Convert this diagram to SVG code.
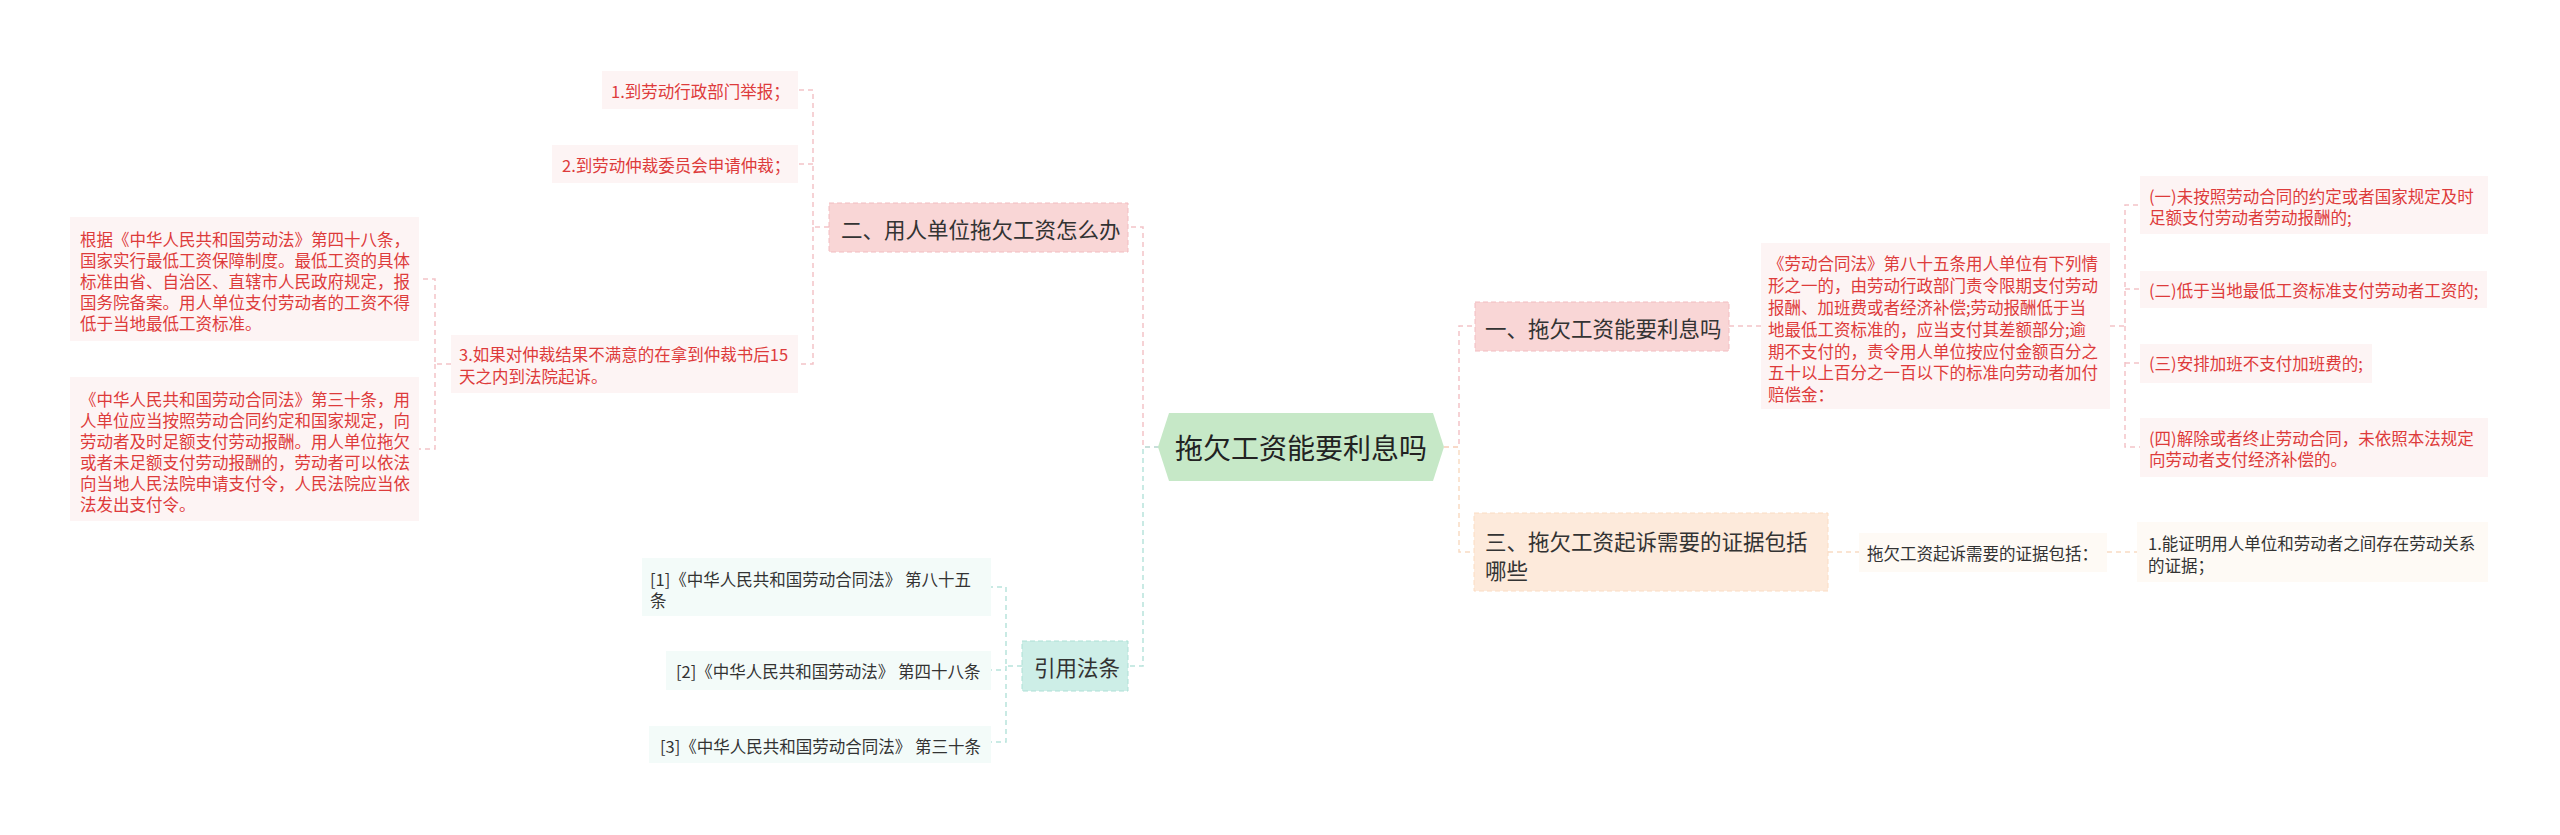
<svg xmlns="http://www.w3.org/2000/svg" width="2560" height="835" viewBox="0 0 2560 835">
<style>
text{font-family:"Noto Sans CJK SC","Noto Sans",sans-serif;dominant-baseline:central}
.red{fill:#dd3b3b;font-size:16.5px}
.dk{fill:#333;font-size:16.5px}
.l1{fill:#333;font-size:21.5px}
.c{fill:#222;font-size:28px}
.cp{fill:none;stroke:#f3c3c8;stroke-width:1.5;stroke-dasharray:5 4}
.ct{fill:none;stroke:#b8e3db;stroke-width:1.5;stroke-dasharray:5 4}
.co{fill:none;stroke:#f9dcc4;stroke-width:1.5;stroke-dasharray:5 4}
.lp{fill:#fdf4f4}
.lt{fill:#f3fbf9}
.lo{fill:#fefaf5}
</style>
<rect width="2560" height="835" fill="#fff"/>
<g id="connectors">
<path class="cp" d="M1159,447 H1143 V227 H1128"/>
<path class="ct" d="M1159,447 H1143 V666 H1128"/>
<path class="cp" d="M1444,447 H1459 V326 H1475"/>
<path class="co" d="M1444,447 H1459 V552 H1474"/>
<path class="cp" d="M829,227 H813 V90 H798 M813,164 H798 M813,227 V364 H798"/>
<path class="cp" d="M451,364 H435 V279 H419 M435,364 V449 H419"/>
<path class="ct" d="M1022,666 H1006 V587 H991 M1006,666 V670 H991 M1006,666 V742 H991"/>
<path class="cp" d="M1729,326 H1761"/>
<path class="cp" d="M2110,326 H2125 V205 H2140 M2125,289 H2140 M2125,326 V447 H2140 M2125,363 H2140"/>
<path class="co" d="M1828,552 H1859"/>
<path class="co" d="M2107,552 H2137"/>
</g>
<g id="root">
<polygon points="1158,447 1169,413 1433,413 1444,447 1433,481 1169,481" fill="#c6e8c7"/>
<text class="c" x="1301" y="447" text-anchor="middle">拖欠工资能要利息吗</text>
</g>
<g id="n2">
<rect x="829" y="203" width="299" height="49" fill="#f9d6d6" stroke="#f2bcc0" stroke-dasharray="5 3"/>
<text class="l1" x="841" y="228">二、用人单位拖欠工资怎么办</text>
</g>
<g id="n2-1">
<rect class="lp" x="602" y="71" width="196" height="38"/>
<text class="red" x="611" y="91">1.到劳动行政部门举报；</text>
</g>
<g id="n2-2">
<rect class="lp" x="552" y="145" width="246" height="38"/>
<text class="red" x="562" y="165">2.到劳动仲裁委员会申请仲裁；</text>
</g>
<g id="n2-3">
<rect class="lp" x="451" y="335" width="347" height="58"/>
<text class="red" x="459" y="354">3.如果对仲裁结果不满意的在拿到仲裁书后15</text>
<text class="red" x="459" y="376">天之内到法院起诉。</text>
</g>
<g id="n2-3-1">
<rect class="lp" x="70" y="217" width="349" height="124"/>
<text class="red" x="80" y="239">根据《中华人民共和国劳动法》第四十八条，</text>
<text class="red" x="80" y="260">国家实行最低工资保障制度。最低工资的具体</text>
<text class="red" x="80" y="281">标准由省、自治区、直辖市人民政府规定，报</text>
<text class="red" x="80" y="302">国务院备案。用人单位支付劳动者的工资不得</text>
<text class="red" x="80" y="323">低于当地最低工资标准。</text>
</g>
<g id="n2-3-2">
<rect class="lp" x="70" y="377" width="349" height="144"/>
<text class="red" x="80" y="399">《中华人民共和国劳动合同法》第三十条，用</text>
<text class="red" x="80" y="420">人单位应当按照劳动合同约定和国家规定，向</text>
<text class="red" x="80" y="441">劳动者及时足额支付劳动报酬。用人单位拖欠</text>
<text class="red" x="80" y="462">或者未足额支付劳动报酬的，劳动者可以依法</text>
<text class="red" x="80" y="483">向当地人民法院申请支付令，人民法院应当依</text>
<text class="red" x="80" y="504">法发出支付令。</text>
</g>
<g id="nref">
<rect x="1022" y="641" width="106" height="50" fill="#cdeee7" stroke="#ade0d6" stroke-dasharray="5 3"/>
<text class="l1" x="1034" y="666">引用法条</text>
</g>
<g id="nref-1">
<rect class="lt" x="642" y="558" width="349" height="58"/>
<text class="dk" x="650" y="579">[1]《中华人民共和国劳动合同法》 第八十五</text>
<text class="dk" x="650" y="600">条</text>
</g>
<g id="nref-2">
<rect class="lt" x="666" y="651" width="325" height="39"/>
<text class="dk" x="676" y="671">[2]《中华人民共和国劳动法》 第四十八条</text>
</g>
<g id="nref-3">
<rect class="lt" x="649" y="726" width="342" height="37"/>
<text class="dk" x="660" y="746">[3]《中华人民共和国劳动合同法》 第三十条</text>
</g>
<g id="n1">
<rect x="1475" y="302" width="254" height="49" fill="#f9d6d6" stroke="#f2bcc0" stroke-dasharray="5 3"/>
<text class="l1" x="1485" y="327">一、拖欠工资能要利息吗</text>
</g>
<g id="n1-1">
<rect class="lp" x="1761" y="243" width="349" height="166"/>
<text class="red" x="1768" y="263">《劳动合同法》第八十五条用人单位有下列情</text>
<text class="red" x="1768" y="285">形之一的，由劳动行政部门责令限期支付劳动</text>
<text class="red" x="1768" y="307">报酬、加班费或者经济补偿;劳动报酬低于当</text>
<text class="red" x="1768" y="329">地最低工资标准的，应当支付其差额部分;逾</text>
<text class="red" x="1768" y="351">期不支付的，责令用人单位按应付金额百分之</text>
<text class="red" x="1768" y="372">五十以上百分之一百以下的标准向劳动者加付</text>
<text class="red" x="1768" y="394">赔偿金：</text>
</g>
<g id="n1-1-1">
<rect class="lp" x="2140" y="176" width="348" height="58"/>
<text class="red" x="2149" y="196">(一)未按照劳动合同的约定或者国家规定及时</text>
<text class="red" x="2149" y="217">足额支付劳动者劳动报酬的;</text>
</g>
<g id="n1-1-2">
<rect class="lp" x="2140" y="271" width="347" height="37"/>
<text class="red" x="2149" y="290">(二)低于当地最低工资标准支付劳动者工资的;</text>
</g>
<g id="n1-1-3">
<rect class="lp" x="2140" y="344" width="232" height="39"/>
<text class="red" x="2149" y="363">(三)安排加班不支付加班费的;</text>
</g>
<g id="n1-1-4">
<rect class="lp" x="2140" y="418" width="348" height="59"/>
<text class="red" x="2149" y="438">(四)解除或者终止劳动合同，未依照本法规定</text>
<text class="red" x="2149" y="459">向劳动者支付经济补偿的。</text>
</g>
<g id="n3">
<rect x="1474" y="513" width="354" height="78" fill="#fdeadb" stroke="#fbdcc2" stroke-dasharray="5 3"/>
<text class="l1" x="1485" y="540">三、拖欠工资起诉需要的证据包括</text>
<text class="l1" x="1485" y="569">哪些</text>
</g>
<g id="n3-1">
<rect class="lo" x="1859" y="533" width="248" height="39"/>
<text class="dk" x="1867" y="553">拖欠工资起诉需要的证据包括：</text>
</g>
<g id="n3-1-1">
<rect class="lo" x="2137" y="522" width="351" height="60"/>
<text class="dk" x="2148" y="543">1.能证明用人单位和劳动者之间存在劳动关系</text>
<text class="dk" x="2148" y="565">的证据；</text>
</g>
</svg>
